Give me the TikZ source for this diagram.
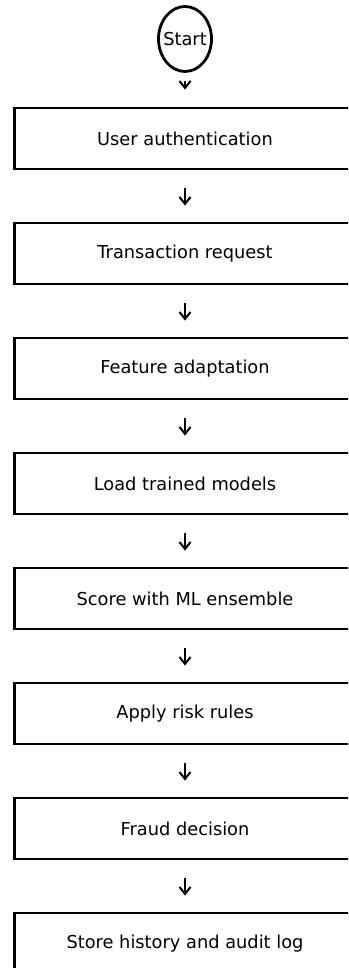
\documentclass[tikz,border=0pt]{standalone}
\usepackage{fontspec}
\setmainfont{DejaVu Sans}
\usetikzlibrary{arrows.meta,shapes.geometric}

\begin{document}
\begin{tikzpicture}[x=1pt,y=-1pt,
    stage/.style={draw,line width=2.8pt,minimum width=341pt,minimum height=61pt,inner sep=0pt,font=\fontsize{17.8}{21}\selectfont},
    startnode/.style={draw,ellipse,line width=2.8pt,minimum height=65pt,inner xsep=-3pt,inner ysep=0pt,font=\fontsize{17.8}{21}\selectfont},
    flow/.style={-{Straight Barb[length=7pt,width=11pt]},line width=2pt,shorten <=18pt,shorten >=16pt}]
    \clip (0,0) rectangle (348,968);
    \node[startnode] (start) at (185,39) {Start};
    \node[stage] (auth) at (185,138.5) {User authentication};
    \node[stage] (req) at (185,253.5) {Transaction request};
    \node[stage] (feat) at (185,368.5) {Feature adaptation};
    \node[stage] (load) at (185,483.5) {Load trained models};
    \node[stage] (score) at (185,598.5) {Score with ML ensemble};
    \node[stage] (rules) at (185,713.5) {Apply risk rules};
    \node[stage] (fraud) at (185,828.5) {Fraud decision};
    \node[stage] (store) at (185,943.5) {Store history and audit log};
    \draw [flow,shorten <=8pt,shorten >=17pt] (start) -- (auth);
    \draw [flow] (auth) -- (req);
    \draw [flow] (req) -- (feat);
    \draw [flow] (feat) -- (load);
    \draw [flow] (load) -- (score);
    \draw [flow] (score) -- (rules);
    \draw [flow] (rules) -- (fraud);
    \draw [flow] (fraud) -- (store);
  \end{tikzpicture}
\end{document}
